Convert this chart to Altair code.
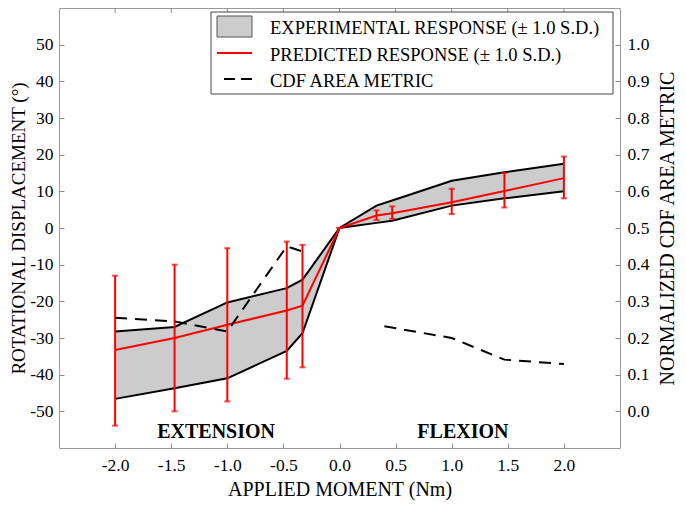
import altair as alt
import pandas as pd

# ---------------- data ----------------
x_pts = [-2.0, -1.47, -1.0, -0.47, -0.33, 0.0, 0.33, 0.47, 1.0, 1.47, 2.0]
exp_upper = [-28.2, -27.0, -20.3, -16.4, -14.1, 0.0, 6.1, 7.5, 12.9, 15.2, 17.5]
exp_lower = [-46.6, -43.7, -41.0, -33.5, -28.7, 0.0, 1.4, 2.0, 6.1, 8.1, 10.0]
pred_mean = [-33.3, -30.0, -26.4, -22.5, -21.2, 0.0, 3.4, 4.0, 7.0, 10.1, 13.6]
pred_hi = [-13.0, -10.0, -5.5, -3.7, -4.6, 0.0, 4.8, 5.9, 10.7, 15.0, 19.5]
pred_lo = [-53.9, -50.0, -47.3, -41.1, -38.0, 0.0, 2.2, 2.5, 3.8, 5.6, 8.1]

cdf_ext_x = [-2.0, -1.47, -1.0, -0.47, -0.33]
cdf_ext = [0.255, 0.245, 0.218, 0.45, 0.436]
cdf_flex_x = [0.40, 1.0, 1.47, 2.0]
cdf_flex = [0.232, 0.20, 0.141, 0.129]

x_ticks = [-2.0, -1.5, -1.0, -0.5, 0.0, 0.5, 1.0, 1.5, 2.0]
y_ticks = [-50, -40, -30, -20, -10, 0, 10, 20, 30, 40, 50]
y2_ticks = [0.0, 0.1, 0.2, 0.3, 0.4, 0.5, 0.6, 0.7, 0.8, 0.9, 1.0]

region_labels = ["EXTENSION", "FLEXION"]
region_x = [-1.1, 1.1]
region_y = [-55.7, -55.7]

legend_labels = ["EXPERIMENTAL RESPONSE (± 1.0 S.D.)",
                 "PREDICTED RESPONSE (± 1.0 S.D.)",
                 "CDF AREA METRIC"]

FONT = "Liberation Serif"
GRAY = "#cccccc"
RED = "#ff0000"
TICK = "#8a8a8a"
HYPHEN = "replace(datum.label, '\u2212', '-')"

df = pd.DataFrame({"x": x_pts, "upper": exp_upper, "lower": exp_lower,
                   "mean": pred_mean, "hi": pred_hi, "lo": pred_lo})
cdf_df = pd.DataFrame({
    "x": cdf_ext_x + cdf_flex_x,
    "v": cdf_ext + cdf_flex,
    "seg": ["ext"] * len(cdf_ext_x) + ["flex"] * len(cdf_flex_x),
})
reg_df = pd.DataFrame({"x": region_x, "y": region_y, "t": region_labels})
tick_df = pd.DataFrame({"x": x_ticks})
one = pd.DataFrame({"a": [0]})

xscale = alt.Scale(domain=[-2.5, 2.5], nice=False, zero=False)
yscale = alt.Scale(domain=[-60, 60], nice=False, zero=False)
y2scale = alt.Scale(domain=[-0.1, 1.1], nice=False, zero=False)

common_axis = dict(offset=-5, tickSize=5, domain=False, grid=False,
                   tickColor=TICK, tickWidth=1)

x_axis = alt.Axis(title="APPLIED MOMENT (Nm)", values=x_ticks, format=".1f",
                  labelExpr=HYPHEN, orient="bottom", labelPadding=8, titlePadding=6,
                  **common_axis)
y_axis = alt.Axis(title="ROTATIONAL DISPLACEMENT (°)", values=y_ticks, format="d",
                  labelExpr=HYPHEN, orient="left", labelPadding=6, titlePadding=1,
                  titleFontSize=19, **common_axis)
y2_axis = alt.Axis(title="NORMALIZED CDF AREA METRIC", values=y2_ticks, format=".1f",
                   orient="right", labelPadding=7, titlePadding=9, titleAngle=270,
                   titleBaseline="top", **common_axis)


def X():
    return alt.X("x:Q", scale=xscale, axis=x_axis)


def Y(field):
    return alt.Y(field, scale=yscale, axis=y_axis)


band = alt.Chart(df).mark_area(color=GRAY, opacity=1).encode(
    x=X(), y=Y("upper:Q"), y2="lower:Q")
upper_line = alt.Chart(df).mark_line(color="black", strokeWidth=2).encode(
    x=X(), y=Y("upper:Q"))
lower_line = alt.Chart(df).mark_line(color="black", strokeWidth=2).encode(
    x=X(), y=Y("lower:Q"))
mean_line = alt.Chart(df).mark_line(color=RED, strokeWidth=2).encode(
    x=X(), y=Y("mean:Q"))
err = alt.Chart(df).mark_rule(color=RED, strokeWidth=2).encode(
    x=X(), y=Y("lo:Q"), y2="hi:Q")
cap_hi = alt.Chart(df).mark_tick(color=RED, orient="horizontal", size=6, thickness=2).encode(
    x=X(), y=Y("hi:Q"))
cap_lo = alt.Chart(df).mark_tick(color=RED, orient="horizontal", size=6, thickness=2).encode(
    x=X(), y=Y("lo:Q"))
regions = alt.Chart(reg_df).mark_text(font=FONT, fontSize=20, fontWeight="bold",
                                      color="black", baseline="middle").encode(
    x=X(), y=Y("y:Q"), text="t:N")
top_ticks = alt.Chart(tick_df).mark_rule(color=TICK, strokeWidth=1).encode(
    x=X(), y=alt.value(0), y2=alt.value(5))

# legend (drawn in pixel space)
lg_box = alt.Chart(one).mark_rect(fill="white", stroke="#444", strokeWidth=1).encode(
    x=alt.value(152), x2=alt.value(554), y=alt.value(4), y2=alt.value(86))
lg_sw = alt.Chart(one).mark_rect(fill=GRAY, stroke="#555", strokeWidth=1).encode(
    x=alt.value(158), x2=alt.value(193), y=alt.value(8), y2=alt.value(29))
lg_red = alt.Chart(one).mark_rule(color=RED, strokeWidth=2).encode(
    x=alt.value(158), x2=alt.value(193), y=alt.value(45))
lg_dash = alt.Chart(one).mark_rule(color="black", strokeWidth=2, strokeDash=[11, 6]).encode(
    x=alt.value(165), x2=alt.value(193), y=alt.value(71))
lg_t = [
    alt.Chart(one).mark_text(font=FONT, fontSize=18.5, align="left", baseline="middle",
                             color="black", text=legend_labels[i]).encode(
        x=alt.value(211), y=alt.value(yy))
    for i, yy in enumerate([20, 47, 73])
]

left = alt.layer(band, upper_line, lower_line, mean_line, err, cap_hi, cap_lo,
                 regions, top_ticks, lg_box, lg_sw, lg_red, lg_dash, *lg_t)

cdf = alt.Chart(cdf_df).mark_line(color="black", strokeWidth=2, strokeDash=[12, 8]).encode(
    x=X(), y=alt.Y("v:Q", scale=y2scale, axis=y2_axis), detail="seg:N")

chart = alt.layer(left, cdf).resolve_scale(y="independent").properties(
    width=561, height=440,
    autosize=alt.AutoSizeParams(type="none"),
    padding={"left": 51, "top": 0, "right": 58, "bottom": 55},
).configure_view(stroke="#9a9a9a", strokeWidth=1).configure_axis(
    labelFont=FONT, titleFont=FONT, labelFontSize=17.5, titleFontSize=20,
    titleFontWeight="normal", labelColor="black", titleColor="black",
)

chart.save("out.html", embed_options={"renderer": "svg", "actions": False})
